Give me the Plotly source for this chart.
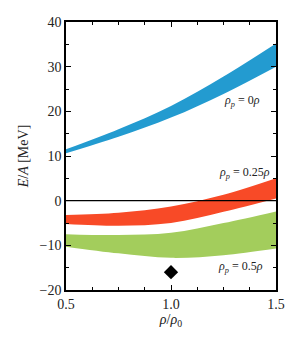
import plotly.graph_objects as go

rho = [0.5, 0.75, 1.0, 1.25, 1.5]

pnm_upper = [11.5, 16.0, 21.2, 27.8, 35.2]
pnm_lower = [10.6, 14.3, 18.6, 23.9, 30.0]

p25_upper = [-3.2, -2.7, -1.3, 1.3, 5.0]
p25_lower = [-5.2, -5.6, -5.0, -2.5, 0.5]

p50_upper = [-7.5, -7.7, -7.2, -5.0, -2.4]
p50_lower = [-10.3, -11.8, -12.8, -12.2, -10.7]

sat_x = [1.0]
sat_y = [-16.0]

labels = ["ρ<sub>p</sub>", "ρ<sub>p</sub>", "ρ<sub>p</sub>"]
label_vals = ["0", "0.25", "0.5"]
label_x = [1.34, 1.35, 1.33]
label_y = [22.3, 6.2, -14.8]

colors = ["#239BD0", "#F84A27", "#A3CD5C"]
FONT = "'Liberation Serif', 'DejaVu Serif', serif"

fig = go.Figure()
bands = [(pnm_lower, pnm_upper), (p25_lower, p25_upper), (p50_lower, p50_upper)]
for (lo, up), c in zip(bands, colors):
    fig.add_trace(go.Scatter(x=rho, y=lo, mode="lines", line=dict(width=0, color=c, shape="spline"),
                             showlegend=False, hoverinfo="skip"))
    fig.add_trace(go.Scatter(x=rho, y=up, mode="lines", line=dict(width=0, color=c, shape="spline"),
                             fill="tonexty", fillcolor=c, showlegend=False, hoverinfo="skip"))

fig.add_trace(go.Scatter(x=sat_x, y=sat_y, mode="markers",
                         marker=dict(symbol="diamond", size=11, color="black"), showlegend=False))

fig.add_shape(type="line", xref="paper", x0=0, x1=1, yref="y", y0=0, y1=0,
              line=dict(color="black", width=1.2))

for t, v, xx, yy in zip(labels, label_vals, label_x, label_y):
    fig.add_annotation(x=xx, y=yy, text="<i>" + t + "</i> = " + v + "<i>ρ</i>", showarrow=False,
                       font=dict(family=FONT, size=12, color="#222"))

axis_common = dict(showline=True, linecolor="black", linewidth=1.5, mirror="allticks",
                   ticks="inside", ticklen=5, tickcolor="black", tickwidth=1,
                   showgrid=False, zeroline=False, automargin=False,
                   tickfont=dict(family=FONT, size=14, color="#222"))

fig.update_xaxes(range=[0.5, 1.5], dtick=0.5, tick0=0.5, tickformat=".1f",
                 minor=dict(dtick=0.125, ticks="inside", ticklen=3, tickcolor="black"),
                 title=dict(text="<i>ρ</i>/<i>ρ</i><sub>0</sub>", font=dict(family=FONT, size=14, color="#222"),
                            standoff=4),
                 **axis_common)
fig.update_yaxes(range=[-20, 40], dtick=10,
                 minor=dict(dtick=5, ticks="inside", ticklen=3, tickcolor="black"),
                 title=dict(text="<i>E</i>/<i>A</i> [MeV]", font=dict(family=FONT, size=14, color="#222"),
                            standoff=8),
                 **axis_common)

fig.update_layout(width=293, height=336, margin=dict(l=58, r=25, t=14, b=54),
                  plot_bgcolor="white", paper_bgcolor="white",
                  font=dict(family=FONT))

fig.write_html("out.html")
